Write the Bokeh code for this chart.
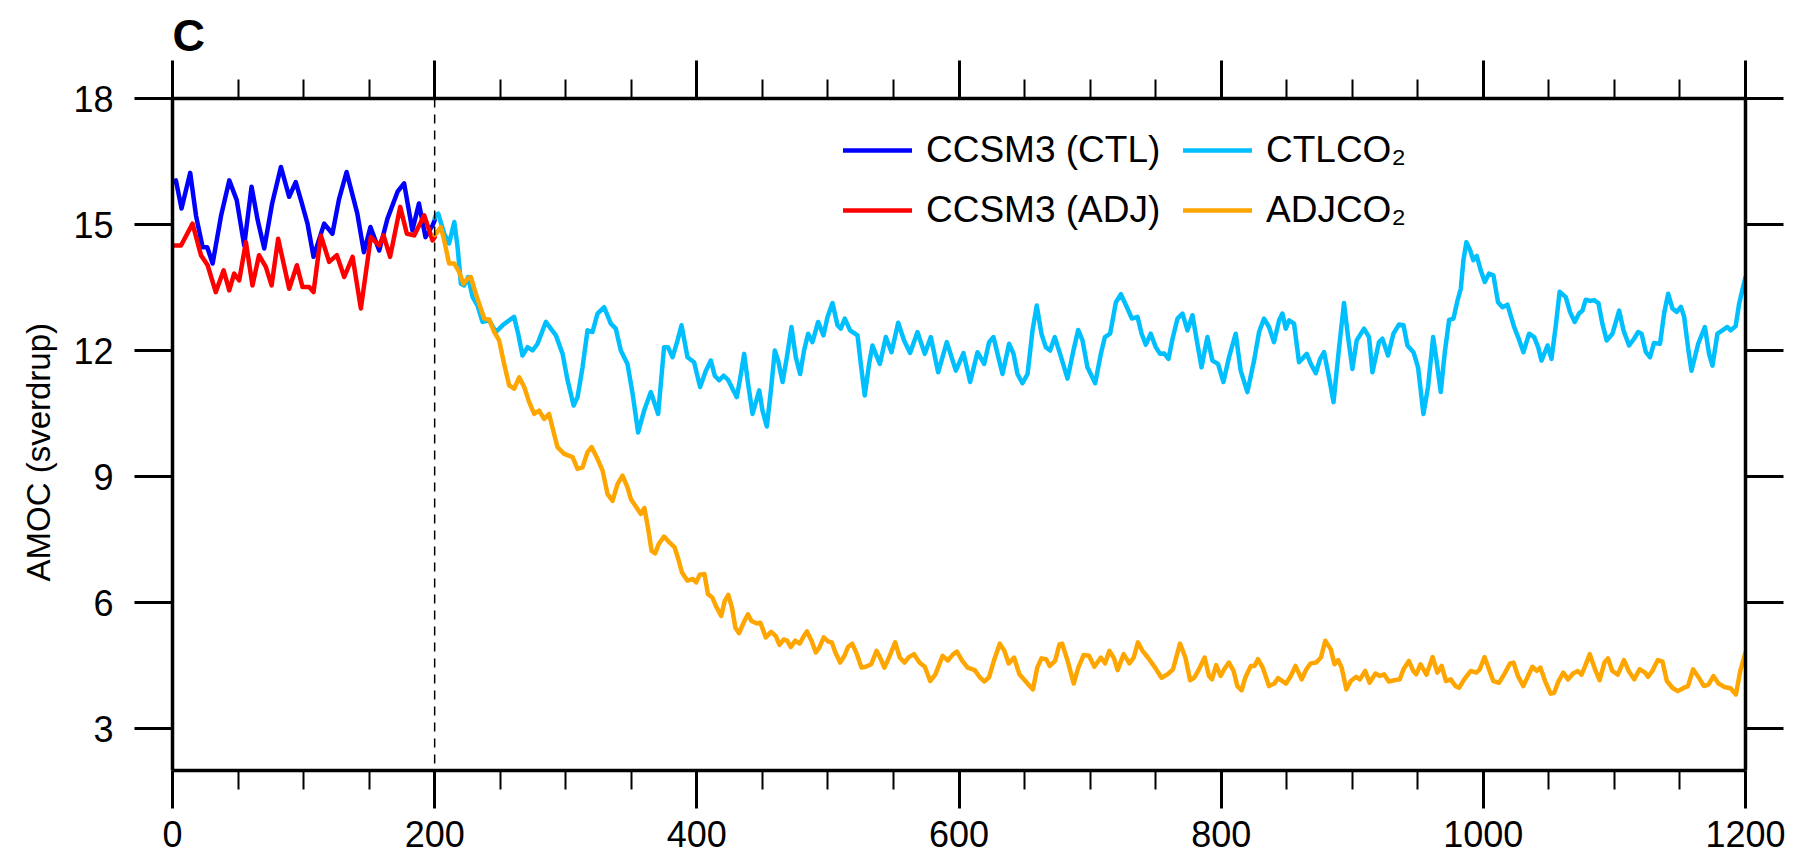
from bokeh.plotting import figure
from bokeh.models import (Range1d, LinearAxis, FixedTicker, Span, Legend,
                          LegendItem, ColumnDataSource, Title)
from bokeh.embed import file_html
from bokeh.resources import INLINE

# ---------------- data ----------------
ctl_year = [0, 2.6, 6.9, 13.5, 18, 23, 26.5, 30.6, 37, 43.3, 49, 54.7, 60.3, 65, 70,
            76, 82.7, 89, 94, 98, 103, 107.6, 115.7, 122, 127, 132.8, 141, 146, 151,
            157.7, 164, 171.7, 176.7, 183, 188, 193, 198.4, 200]
ctl_amoc = [16.0, 16.05, 15.38, 16.23, 15.2, 14.46, 14.46, 14.07, 15.2, 16.05, 15.58,
            14.5, 15.9, 15.1, 14.43, 15.5, 16.37, 15.66, 16.01, 15.58, 15.02, 14.23,
            15.02, 14.78, 15.6, 16.25, 15.26, 14.34, 14.94, 14.38, 15.14, 15.78, 15.98,
            14.86, 15.5, 14.7, 14.98, 15.1]

adj_year = [0, 2.6, 6.5, 15.3, 21.7, 26.8, 33, 39, 43.3, 47, 50.9, 56, 61, 66, 71.2,
            75.6, 80.6, 89, 94.9, 99.2, 104.3, 107.6, 113.2, 119.5, 125.4, 131, 137.4,
            143.7, 151.3, 157.7, 161, 166, 173.7, 178.8, 184.4, 192, 198.4, 200]
adj_amoc = [14.5, 14.5, 14.5, 15.02, 14.27, 14.03, 13.39, 13.91, 13.43, 13.83, 13.67,
            14.58, 13.55, 14.27, 13.99, 13.55, 14.66, 13.47, 14.03, 13.51, 13.51, 13.39,
            14.74, 14.11, 14.27, 13.75, 14.23, 13.0, 14.7, 14.5, 14.74, 14.23, 15.42,
            14.78, 14.74, 15.22, 14.62, 14.7]

ctlco2_year = [200, 201, 202.7, 207.3, 211, 215, 217.5, 220, 222.5, 225.5, 229, 232.7,
               236.5, 241.6, 246.7, 251.8, 256.8, 260.6, 263.7, 267, 270.9, 274.7, 278.5,
               284.8, 288.6, 292.5, 297.6, 301.4, 306, 309, 312.8, 316.6, 320.4, 324.2,
               329.3, 334.4, 338.2, 342, 347.1, 351, 355.2, 359.8, 364.9, 370.5, 375, 378,
               381.5, 385.3, 388.3, 392.9, 397.9, 402.5, 406.9, 410.7, 413.7, 417, 420.4,
               423.9, 427.2, 430.5, 433.6, 436.1, 439.1, 442.5, 447.6, 450.1, 453.4, 456.5,
               459.5, 462, 465.4, 468.7, 472.2, 475.5, 478.8, 481.8, 484.9, 488.2, 492.5,
               496.6, 499.7, 503.5, 507.3, 509.8, 512.9, 516.9, 522.6, 525.1, 528.1, 531.4,
               534, 536.5, 539.6, 544.2, 548.5, 553.6, 558.1, 562.7, 568.3, 573.9, 578.5,
               584.1, 590.7, 597.6, 603.4, 608.5, 614.1, 619.2, 623, 626.3, 629.4, 633.2,
               638.2, 641.6, 644.6, 648.4, 652.3, 656.1, 659.3, 662.9, 666.2, 669.5, 673.1,
               677.1, 682.8, 687.3, 690.9, 694.2, 698, 703.9, 708.2, 711.3, 715.3, 719.7,
               723.5, 728.1, 731.9, 736.2, 739.3, 742.5, 746.3, 750.1, 753.4, 756.5, 759.8,
               762.9, 766.7, 770.5, 774.3, 778.1, 781.4, 785, 789.5, 793.3, 797.6, 801.7,
               806, 811.1, 814.9, 820, 825.1, 828.9, 832.7, 836.5, 840.3, 844.2, 846.7,
               849.3, 851.8, 855.6, 859.4, 865.3, 868.4, 872.2, 875.5, 878.5, 882.3, 885.7,
               890, 893.7, 896.8, 900.1, 903.4, 909, 912.8, 915.4, 920.4, 923, 927.3, 931.4,
               935.7, 939.1, 942.1, 946.7, 950.2, 954.3, 957.8, 961.7, 964.5, 967.5, 970.6,
               973.9, 977.2, 980.3, 982.8, 984.8, 987.1, 989.9, 992.4, 995, 998, 1001.1,
               1004.3, 1007.7, 1011.2, 1014.6, 1018.4, 1023.5, 1026.5, 1030.6, 1034.9,
               1038.8, 1041.8, 1044.4, 1049, 1052, 1055.3, 1058.2, 1062.9, 1066.1, 1069.7,
               1073, 1075.6, 1078.1, 1081.4, 1084.5, 1087.8, 1090.8, 1094.1, 1098.5, 1103.6,
               1106.9, 1111.2, 1115, 1118.1, 1120.7, 1124, 1127.2, 1130.2, 1134.8, 1137.9,
               1141, 1144.3, 1147.6, 1150.7, 1153.2, 1156.3, 1158.8, 1163.9, 1169, 1172.2,
               1174.8, 1178.6, 1182.4, 1186.2, 1188.7, 1192.5, 1195.1, 1200]
ctlco2_amoc = [15.15, 15.22, 15.26, 14.78, 14.55, 15.06, 14.46, 13.59, 13.55, 13.75, 13.27,
               13.07, 12.68, 12.72, 12.44, 12.6, 12.72, 12.8, 12.4, 11.88, 12.08, 12.0,
               12.16, 12.68, 12.52, 12.36, 11.92, 11.29, 10.69, 10.89, 11.6, 12.48, 12.44,
               12.88, 13.03, 12.64, 12.52, 12.0, 11.68, 10.97, 10.05, 10.57, 11.01, 10.49,
               12.08, 12.08, 11.84, 12.24, 12.6, 11.84, 11.72, 11.13, 11.52, 11.76, 11.4,
               11.29, 11.4, 11.3, 11.09, 10.89, 11.44, 11.92, 11.21, 10.49, 11.05, 10.57,
               10.19, 11.05, 12.0, 11.76, 11.25, 11.84, 12.56, 11.84, 11.44, 12.0, 12.4,
               12.2, 12.68, 12.36, 12.8, 13.13, 12.6, 12.52, 12.76, 12.48, 12.36, 11.68,
               10.93, 11.68, 12.12, 11.92, 11.68, 12.32, 11.96, 12.66, 12.24, 11.94, 12.44,
               11.92, 12.32, 11.48, 12.2, 11.52, 11.94, 11.25, 11.96, 11.68, 12.2, 12.32,
               11.92, 11.44, 12.16, 11.92, 11.44, 11.22, 11.44, 12.48, 13.07, 12.4, 12.08,
               12.0, 12.32, 11.92, 11.33, 12.0, 12.49, 12.24, 11.6, 11.22, 11.92, 12.32,
               12.4, 13.15, 13.34, 13.03, 12.76, 12.8, 12.4, 12.14, 12.4, 12.08, 11.92,
               11.93, 11.8, 12.28, 12.76, 12.88, 12.48, 12.84, 12.24, 11.6, 12.32, 11.76,
               11.68, 11.25, 11.84, 12.4, 11.52, 11.01, 11.76, 12.44, 12.76, 12.56, 12.2,
               12.72, 12.88, 12.52, 12.72, 12.64, 11.72, 11.92, 11.68, 11.46, 11.8, 11.96,
               11.36, 10.77, 12.08, 13.13, 12.32, 11.56, 12.24, 12.52, 12.32, 11.48, 12.2,
               12.28, 11.88, 12.4, 12.62, 12.6, 12.12, 11.96, 11.6, 10.49, 11.13, 12.32,
               11.72, 11.01, 11.96, 12.73, 12.76, 13.19, 13.47, 14.15, 14.58, 14.39, 14.15,
               14.25, 13.91, 13.63, 13.83, 13.79, 13.15, 13.03, 13.09, 12.56, 12.32, 11.96,
               12.4, 12.32, 12.08, 11.76, 12.12, 11.8, 12.6, 13.4, 13.27, 12.92, 12.68,
               12.88, 12.95, 13.21, 13.18, 13.2, 13.13, 12.64, 12.24, 12.4, 12.95, 12.48,
               12.12, 12.28, 12.44, 12.4, 11.96, 11.84, 12.18, 12.16, 12.88, 13.35, 13.0,
               12.92, 13.04, 12.8, 12.04, 11.52, 12.16, 12.56, 11.92, 11.64, 12.4, 12.48,
               12.56, 12.48, 12.58, 13.11, 13.75]

adjco2_year = [200, 201, 204.7, 207.3, 211, 215, 218.7, 222, 225, 227.6, 231.4, 235.2,
               237.8, 241.6, 245.4, 249.2, 253, 256.8, 260.6, 264.5, 268.3, 272.1, 275.9,
               279.7, 283.5, 287.3, 291.1, 293.7, 298.8, 305.2, 309, 312.8, 316.6, 319.7,
               324.2, 328.1, 331.9, 335.7, 339.5, 343.3, 347.1, 349.7, 357.3, 360, 362.7,
               365.5, 368.2, 370.9, 375, 379.1, 383.1, 385.9, 388.6, 392.7, 396.8, 399.5,
               402.2, 405.8, 408.5, 411.8, 414.5, 418.6, 421.3, 424, 426.8, 429.4, 432.2,
               436.3, 439, 441.7, 445.8, 448.5, 452.6, 456.7, 460.3, 463, 466.3, 468.9,
               471.7, 475, 478.5, 481.2, 484, 487.5, 490.8, 493.5, 496.8, 500.3, 503, 505.7,
               509.3, 512.6, 515.3, 518.5, 522.1, 525.6, 528.9, 533, 537.1, 539.8, 543.1,
               546.6, 551.3, 554.8, 558.4, 561.7, 565.7, 569.8, 573.9, 578, 582, 587.5,
               591.5, 595.6, 598.4, 602.5, 606.6, 612, 616.1, 619.4, 622.9, 627, 631.1,
               634.6, 637.9, 642, 646.1, 650.1, 652.9, 656.4, 659.7, 662.9, 666.5, 669.2,
               673.3, 676.6, 678.7, 682.9, 687.5, 691, 695.1, 699.2, 703.3, 708.2, 711.5,
               714.7, 718.3, 721, 725.6, 730, 733.3, 736.5, 740, 744.1, 749.6, 754.5, 759.1,
               763.2, 768.6, 772.7, 776.3, 779.5, 782.4, 787.4, 790.7, 793, 796.2, 799.6,
               802.3, 805.9, 809.5, 812.3, 815.6, 818.4, 822.6, 825.4, 828.1, 831.7, 836.5,
               840.6, 843.4, 849.5, 853.1, 856.7, 861.4, 865, 868.3, 872.5, 876.1, 879.4,
               883.6, 886.4, 889.2, 891.9, 895.5, 898.9, 903, 905.8, 909.9, 913.2, 917.7,
               921, 924.3, 927.9, 932.1, 936.2, 939.1, 943.2, 946.5, 948.8, 952.1, 956.6,
               961.3, 964.9, 968.2, 971.5, 975.1, 978.7, 981.5, 985.4, 990.4, 994.6, 997.3,
               1000.9, 1004.3, 1007.6, 1012, 1015.9, 1020.4, 1023, 1026.4, 1030.5, 1034.1,
               1037.4, 1040.8, 1043.5, 1047.1, 1051.3, 1054, 1057.4, 1061, 1064.6, 1068.5,
               1072.1, 1074.9, 1077.7, 1081.2, 1085.2, 1088.7, 1092.4, 1095.1, 1098.4,
               1102.6, 1107.3, 1110.9, 1115.1, 1119.2, 1123.4, 1125.6, 1128.9, 1133.1,
               1136.7, 1140, 1144.2, 1148.3, 1152.4, 1156.1, 1160, 1164.4, 1168.3, 1171.9,
               1175.5, 1179.4, 1183.8, 1188.6, 1192.7, 1196, 1200]
adjco2_amoc = [14.75, 14.78, 14.94, 14.62, 14.07, 14.07, 13.87, 13.59, 13.71, 13.75, 13.35,
               13.0, 12.76, 12.74, 12.44, 12.24, 11.68, 11.17, 11.09, 11.36, 11.13, 10.77,
               10.49, 10.57, 10.37, 10.49, 10.01, 9.7, 9.54, 9.46, 9.18, 9.22, 9.58, 9.7,
               9.42, 9.14, 8.58, 8.42, 8.82, 9.02, 8.74, 8.46, 8.11, 8.25, 7.79, 7.23, 7.17,
               7.39, 7.57, 7.43, 7.31, 7.03, 6.72, 6.52, 6.56, 6.48, 6.66, 6.68, 6.2, 6.12,
               5.92, 5.68, 6.04, 6.18, 5.88, 5.4, 5.27, 5.56, 5.72, 5.56, 5.5, 5.52, 5.17,
               5.3, 5.2, 4.99, 5.12, 5.09, 4.94, 5.09, 5.02, 5.18, 5.31, 5.09, 4.81, 4.93,
               5.17, 5.07, 5.05, 4.81, 4.57, 4.73, 4.94, 5.02, 4.77, 4.45, 4.47, 4.53, 4.85,
               4.69, 4.45, 4.69, 5.05, 4.69, 4.57, 4.7, 4.77, 4.57, 4.47, 4.13, 4.29, 4.73,
               4.62, 4.77, 4.83, 4.61, 4.45, 4.39, 4.21, 4.12, 4.22, 4.65, 5.02, 4.85, 4.55,
               4.69, 4.29, 4.15, 4.05, 3.93, 4.45, 4.67, 4.65, 4.49, 4.61, 5.0, 5.02, 4.61,
               4.07, 4.45, 4.75, 4.73, 4.47, 4.69, 4.55, 4.85, 4.67, 4.39, 4.77, 4.55, 4.69,
               5.05, 4.85, 4.69, 4.45, 4.21, 4.29, 4.41, 5.02, 4.69, 4.15, 4.21, 4.37, 4.69,
               4.25, 4.17, 4.51, 4.25, 4.41, 4.57, 4.37, 4.01, 3.91, 4.21, 4.49, 4.49, 4.65,
               4.45, 4.01, 4.07, 4.2, 4.07, 4.25, 4.49, 4.17, 4.41, 4.55, 4.57, 4.69, 5.09,
               4.89, 4.53, 4.63, 4.45, 3.93, 4.13, 4.23, 4.17, 4.37, 4.09, 4.31, 4.25, 4.29,
               4.12, 4.15, 4.17, 4.41, 4.61, 4.37, 4.29, 4.53, 4.28, 4.7, 4.33, 4.49, 4.13,
               4.17, 4.01, 3.97, 4.17, 4.37, 4.33, 4.41, 4.7, 4.41, 4.13, 4.09, 4.29, 4.55,
               4.57, 4.25, 4.01, 4.25, 4.47, 4.37, 4.45, 4.13, 3.83, 3.85, 4.13, 4.33, 4.17,
               4.31, 4.37, 4.28, 4.49, 4.77, 4.41, 4.15, 4.57, 4.67, 4.37, 4.28, 4.63, 4.37,
               4.17, 4.41, 4.33, 4.23, 4.37, 4.63, 4.59, 4.13, 3.97, 3.89, 3.96, 4.01, 4.41,
               4.21, 4.01, 4.05, 4.25, 4.07, 3.99, 3.96, 3.81, 4.37, 4.81]

switch_year = 200
x_major = [0, 200, 400, 600, 800, 1000, 1200]
x_minor = [50, 100, 150, 250, 300, 350, 450, 500, 550, 650, 700, 750,
           850, 900, 950, 1050, 1100, 1150]
y_major = [3, 6, 9, 12, 15, 18]

labels = ["CCSM3 (CTL)", "CCSM3 (ADJ)", "CTLCO\u2082", "ADJCO\u2082"]
colors = ["#0000FF", "#FF0000", "#00BFFF", "#FFA500"]
panel_title = "C"
y_title = "AMOC (sverdrup)"

# ---------------- layout ----------------
W, H = 1794, 861
ML, MR, MT, MB = 172, 49, 98, 91
FRAME_H = H - MT - MB
FONT = "Liberation Sans"

p = figure(width=W, height=H, output_backend="svg", toolbar_location=None,
           x_range=Range1d(0, 1200), y_range=Range1d(2, 18),
           x_axis_location=None, y_axis_location=None,
           min_border_left=ML, min_border_right=MR,
           min_border_top=MT, min_border_bottom=MB)
p.outline_line_color = None
p.grid.visible = False
p.background_fill_color = "white"
p.border_fill_color = "white"

p.title.text = panel_title
p.title.align = "left"
p.title.text_font = FONT
p.title.text_font_size = "45px"
p.title.text_font_style = "bold"
p.title.text_color = "black"
p.title.standoff = 0
p.title.offset = 0


def style_axis(ax, labels_on):
    ax.axis_line_width = 3.5
    ax.axis_line_color = "black"
    ax.major_tick_out = 38
    ax.major_tick_in = 0
    ax.minor_tick_out = 19
    ax.minor_tick_in = 0
    ax.major_tick_line_width = 3
    ax.minor_tick_line_width = 2
    ax.major_tick_line_color = "black"
    ax.minor_tick_line_color = "black"
    ax.major_label_text_font = FONT
    if labels_on:
        ax.major_label_text_color = "black"
        ax.major_label_text_font_size = "36px"
    else:
        ax.major_label_text_color = None
        ax.major_label_text_alpha = 0
        ax.major_label_text_font_size = "1px"
        ax.major_label_standoff = 0


xt = FixedTicker(ticks=x_major, minor_ticks=x_minor)
yt = FixedTicker(ticks=y_major, minor_ticks=[])

bottom = LinearAxis(ticker=xt)
style_axis(bottom, True)
bottom.major_label_standoff = 12
top = LinearAxis(ticker=xt)
style_axis(top, False)
left = LinearAxis(ticker=yt)
style_axis(left, True)
left.major_label_standoff = 21
right = LinearAxis(ticker=yt)
style_axis(right, False)

p.add_layout(bottom, "below")
p.add_layout(top, "above")
p.add_layout(left, "left")
p.add_layout(right, "right")

# y-axis title: starts 189 px above the frame bottom, as in the reference
p.add_layout(Title(text=y_title, align="left", offset=189, standoff=28,
                   text_font=FONT, text_font_size="33px", text_font_style="normal",
                   text_color="black"), "left")

p.add_layout(Span(location=switch_year, dimension="height", line_color="black",
                  line_width=1.5, line_dash="9 7"))

series = [(ctl_year, ctl_amoc), (adj_year, adj_amoc),
          (ctlco2_year, ctlco2_amoc), (adjco2_year, adjco2_amoc)]
rends = []
for (xs, ys), c in zip(series, colors):
    src = ColumnDataSource(dict(x=xs, y=ys))
    r = p.line("x", "y", source=src, line_color=c, line_width=4.5,
               line_join="round", line_cap="round")
    rends.append(r)


def make_legend(idx, x0):
    lg = Legend(items=[LegendItem(label=labels[i], renderers=[rends[i]]) for i in idx],
                location=(x0, FRAME_H - 134), orientation="vertical",
                padding=0, margin=0, spacing=16, glyph_width=69, glyph_height=44,
                label_height=44, label_standoff=14,
                label_text_font=FONT, label_text_font_size="37px",
                label_text_color="black",
                border_line_color=None, background_fill_alpha=0)
    p.add_layout(lg, "center")


make_legend([0, 1], 671)
make_legend([2, 3], 1011)

open("out.html", "w").write(file_html(p, INLINE))
